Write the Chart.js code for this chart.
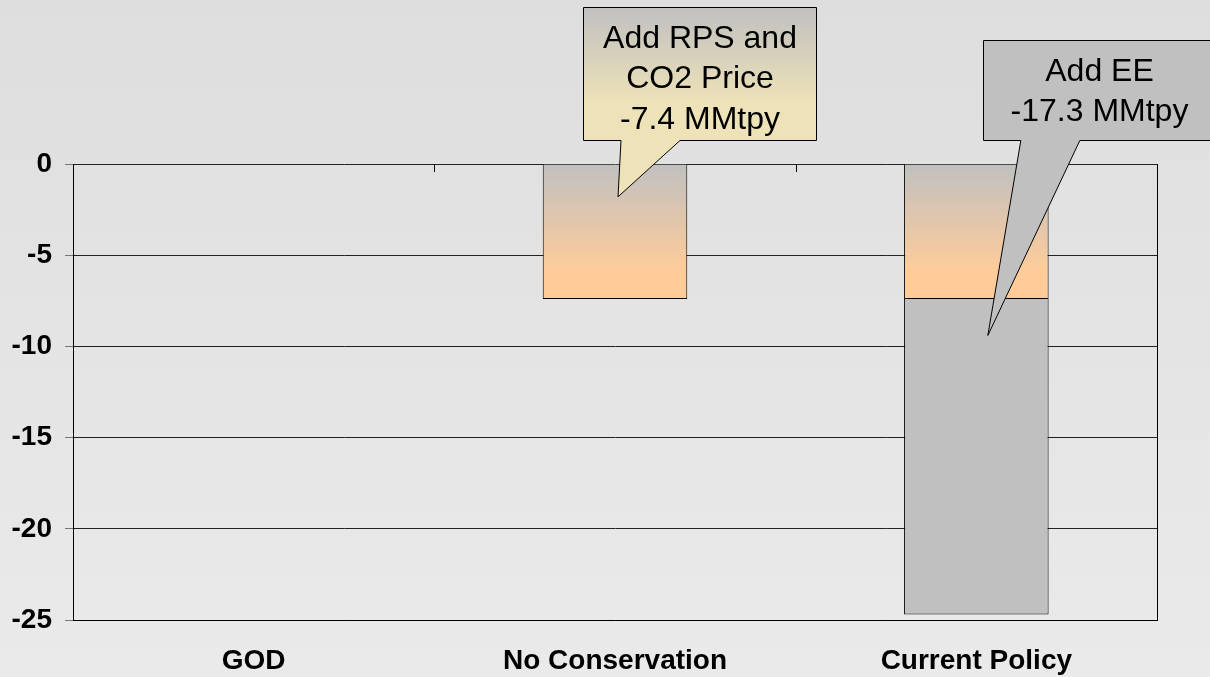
<!DOCTYPE html>
<html>
<head>
<meta charset="utf-8">
<script src="https://cdn.jsdelivr.net/npm/chart.js@4"></script>
<style>
  html, body { margin: 0; padding: 0; }
  #wrap { width: 1210px; height: 677px; }
</style>
</head>
<body>
<div id="wrap"><canvas id="chart"></canvas></div>
<script>
// Dados do gráfico
const categories = ['GOD', 'No Conservation', 'Current Policy'];
const rpsCo2 = [null, -7.4, -7.4];
const energyEff = [null, null, -17.3];
const yTicks = [0, -5, -10, -15, -20, -25];

// Textos das caixas e onde a ponta aponta (categoria, valor)
const calloutText = [
  ['Add RPS and', 'CO2 Price', '-7.4 MMtpy'],
  ['Add EE', '-17.3 MMtpy']
];
const calloutCategory = [1, 2];
const calloutValue = [-1.8, -9.4];

const FONT = "Arial, 'Liberation Sans', sans-serif";

// geometria das caixas, em pixels relativos à ponta
const calloutLayout = [
  { dx: 3, left: -35, right: 198, top: -190, bottom: -57, baseL: 3, baseR: 62, gradient: true },
  { dx: 11.5, left: -5, right: 227, top: -295, bottom: -195, baseL: 33, baseR: 92, gradient: false }
];

// fundo cinza com leve degradê
const backgroundPlugin = {
  id: 'bg',
  beforeDraw(chart) {
    const c = chart.ctx;
    const g = c.createLinearGradient(0, 0, 0, chart.height);
    g.addColorStop(0, '#dedede');
    g.addColorStop(1, '#eaeaea');
    c.save();
    c.fillStyle = g;
    c.fillRect(0, 0, chart.width, chart.height);
    c.restore();
  }
};

// borda direita e marcas das categorias na linha do zero
const framePlugin = {
  id: 'frame',
  beforeDatasetsDraw(chart) {
    const c = chart.ctx;
    const area = chart.chartArea;
    const x = chart.scales.x;
    const y0 = chart.scales.y.getPixelForValue(0);
    c.save();
    c.strokeStyle = '#000';
    c.lineWidth = 1;
    c.beginPath();
    c.moveTo(Math.round(area.right) + 0.5, area.top);
    c.lineTo(Math.round(area.right) + 0.5, area.bottom);
    for (let i = 0; i < categories.length - 1; i++) {
      const bx = Math.round((x.getPixelForValue(i) + x.getPixelForValue(i + 1)) / 2) + 0.5;
      c.moveTo(bx, y0);
      c.lineTo(bx, y0 + 8);
    }
    c.stroke();
    c.restore();
  }
};

// caixas de texto com ponteiro
const calloutPlugin = {
  id: 'callouts',
  afterDatasetsDraw(chart) {
    const c = chart.ctx;
    const x = chart.scales.x;
    const y = chart.scales.y;
    for (let i = 0; i < calloutText.length; i++) {
      const L = calloutLayout[i];
      const tx = x.getPixelForValue(calloutCategory[i]) + L.dx;
      const ty = y.getPixelForValue(calloutValue[i]);
      const left = Math.round(tx + L.left) + 0.5;
      const right = Math.round(tx + L.right) + 0.5;
      const top = Math.round(ty + L.top) + 0.5;
      const bottom = Math.round(ty + L.bottom) + 0.5;

      c.save();
      c.beginPath();
      c.moveTo(left, top);
      c.lineTo(right, top);
      c.lineTo(right, bottom);
      c.lineTo(tx + L.baseR, bottom);
      c.lineTo(tx, ty);
      c.lineTo(tx + L.baseL, bottom);
      c.lineTo(left, bottom);
      c.closePath();
      if (L.gradient) {
        const g = c.createLinearGradient(0, top, 0, bottom);
        g.addColorStop(0, '#c0c0c0');
        g.addColorStop(0.72, '#eee2b8');
        g.addColorStop(1, '#eee2b8');
        c.fillStyle = g;
      } else {
        c.fillStyle = '#c0c0c0';
      }
      c.fill();
      c.strokeStyle = '#000';
      c.lineWidth = 1;
      c.stroke();

      c.fillStyle = '#000';
      c.font = '32px ' + FONT;
      c.textAlign = 'center';
      c.textBaseline = 'alphabetic';
      const cx = (left + right) / 2;
      calloutText[i].forEach(function(line, k) {
        c.fillText(line, cx, top + 40 + 40.5 * k);
      });
      c.restore();
    }
  }
};

function peachGradient(ctx) {
  const chart = ctx.chart;
  const y = chart.scales.y;
  if (!chart.chartArea || !y || ctx.raw == null) return '#ffcc99';
  const top = y.getPixelForValue(0);
  const bottom = y.getPixelForValue(ctx.raw);
  const g = chart.ctx.createLinearGradient(0, top, 0, bottom);
  g.addColorStop(0, '#c0c0c0');
  g.addColorStop(0.8, '#ffcc99');
  g.addColorStop(1, '#ffcc99');
  return g;
}

new Chart(document.getElementById('chart'), {
  type: 'bar',
  data: {
    labels: categories,
    datasets: [
      {
        label: 'RPS e CO2',
        data: rpsCo2,
        backgroundColor: peachGradient,
        borderColor: '#000',
        borderWidth: 1,
        borderSkipped: 'start'
      },
      {
        label: 'EE',
        data: energyEff,
        backgroundColor: '#c0c0c0',
        borderColor: '#000',
        borderWidth: 1,
        borderSkipped: 'start'
      }
    ]
  },
  options: {
    responsive: true,
    maintainAspectRatio: false,
    animation: false,
    layout: { padding: { top: 164, right: 53, left: 0, bottom: 0 } },
    datasets: { bar: { categoryPercentage: 1, barPercentage: 0.4 } },
    plugins: {
      legend: { display: false },
      tooltip: { enabled: false }
    },
    scales: {
      x: {
        stacked: true,
        grid: { display: false, drawTicks: false },
        border: { display: true, color: '#000', width: 1 },
        ticks: {
          color: '#000',
          padding: 24,
          font: { family: FONT, size: 28, weight: 'bold' }
        },
        afterFit(scale) { scale.height = 57; }
      },
      y: {
        stacked: true,
        min: -25,
        max: 0,
        afterBuildTicks(scale) {
          scale.ticks = yTicks.map(function(v) { return { value: v }; });
        },
        grid: { color: '#222', tickColor: '#777', tickLength: 8, lineWidth: 1 },
        border: { display: true, color: '#000', width: 1 },
        ticks: {
          color: '#000',
          padding: 13,
          font: { family: FONT, size: 28, weight: 'bold' }
        },
        afterFit(scale) { scale.width = 73; }
      }
    }
  },
  plugins: [backgroundPlugin, framePlugin, calloutPlugin]
});
</script>
</body>
</html>
